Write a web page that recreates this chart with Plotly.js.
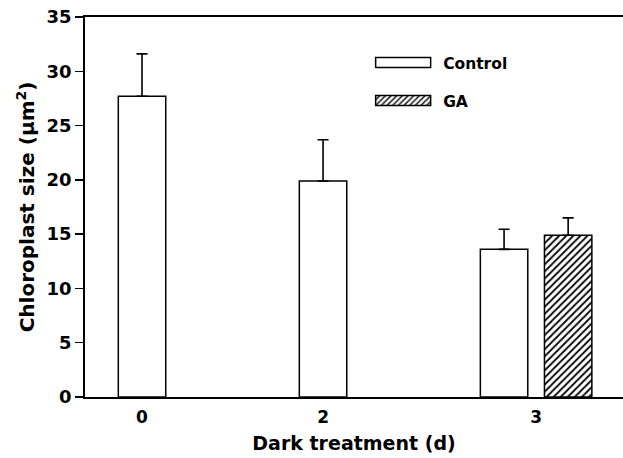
<!DOCTYPE html>
<html>
<head>
<meta charset="utf-8">
<script src="https://cdn.plot.ly/plotly-3.0.1.min.js"></script>
<style>html,body{margin:0;padding:0;background:#fff;}#chart{width:623px;height:458px;}</style>
</head>
<body>
<div id="chart"></div>
<script>
// ---- data ----
const categories = ['0', '2', '3'];
const controlValues = [27.7, 19.9, 13.6];
const controlErrors = [3.9, 3.8, 1.85];
const gaValues = [null, null, 14.9];
const gaErrors = [null, null, 1.6];
const seriesNames = ['Control', 'GA'];
const yTicks = [0, 5, 10, 15, 20, 25, 30, 35];

// ---- layout helpers (positions, not data) ----
const barWidth = 0.262;
const gaShift = 0.354;
const idx = categories.map((c, i) => i);
const controlX = idx;
const gaX = idx.map(i => i + gaShift);
const tickPos = idx.map(i => gaValues[i] != null ? i + gaShift / 2 : i);

const FONT = '"DejaVu Sans", "Liberation Sans", Arial, sans-serif';

const traces = [
  {
    type: 'bar', name: seriesNames[0], legendgroup: 'g1', x: controlX, y: controlValues, width: barWidth,
    marker: {color: '#ffffff', line: {color: '#000', width: 1.5}},
    error_y: {type: 'data', array: controlErrors, arrayminus: controlErrors.map(() => 0), symmetric: false,
              color: '#000', thickness: 1.6, width: 5.5}
  },
  {
    type: 'bar', name: seriesNames[1], legendgroup: 'g2', x: gaX, y: gaValues, width: barWidth,
    marker: {color: '#ffffff', line: {color: '#000', width: 1.5},
             pattern: {shape: '/', size: 5, solidity: 0.35, fgcolor: '#000', bgcolor: '#fff'}},
    error_y: {type: 'data', array: gaErrors, arrayminus: gaErrors.map(v => v == null ? null : 0), symmetric: false,
              color: '#000', thickness: 1.6, width: 5.5}
  }
];

const layout = {
  width: 623, height: 458,
  margin: {l: 85, r: 0, t: 17, b: 61},
  paper_bgcolor: '#fff', plot_bgcolor: '#fff',
  barmode: 'overlay',
  font: {family: FONT, color: '#000', size: 16, weight: 'bold'},
  showlegend: true,
  legend: {x: 0.517, y: 0.924, xanchor: 'left', yanchor: 'top', bgcolor: 'rgba(0,0,0,0)',
           font: {family: FONT, size: 15.5, weight: 'bold', color: '#000'},
           itemwidth: 70, tracegroupgap: 15, traceorder: 'grouped'},
  xaxis: {
    range: [-0.315, 2.657], tickvals: tickPos, ticktext: categories,
    showline: true, linecolor: '#000', linewidth: 1.8, mirror: true,
    ticks: '', showgrid: false, zeroline: false, ticklabelstandoff: 4,
    tickfont: {family: FONT, size: 17, weight: 'bold'},
    title: {text: 'Dark treatment (d)', font: {family: FONT, size: 19, weight: 'bold'}, standoff: 10}
  },
  yaxis: {
    range: [0, 35], tickvals: yTicks,
    showline: true, linecolor: '#000', linewidth: 1.8, mirror: false,
    ticks: 'outside', ticklen: 8, tickwidth: 1.5, tickcolor: '#000',
    showgrid: false, zeroline: false,
    tickfont: {family: FONT, size: 18, weight: 'bold'},
    title: {text: 'Chloroplast size (µm<sup>2</sup>)', font: {family: FONT, size: 20, weight: 'bold'}, standoff: 6}
  }
};

Plotly.newPlot('chart', traces, layout, {staticPlot: true}).then(gd => {
  // widen the legend swatches to look like the reference's long rectangles
  gd.querySelectorAll('.legend .legendpoints path').forEach(p => {
    p.setAttribute('d', 'M-27.5,5H27.5V-5H-27.5Z');
  });
});
</script>
</body>
</html>
